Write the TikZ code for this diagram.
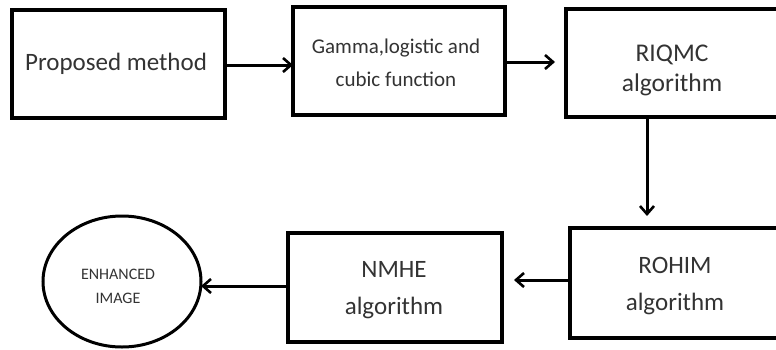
\documentclass[tikz,border=0pt]{standalone}
\usepackage{fontspec}
\setmainfont{Carlito}
\usetikzlibrary{arrows.meta,shapes.geometric}
\begin{document}
\begin{tikzpicture}[x=1pt,y=-1pt,
  box/.style={draw=black,line width=3.4pt,fill=white,inner sep=0pt},
  lab/.style={align=center,text=black!80,inner sep=0pt},
  conn/.style={line width=3pt,-{Straight Barb[length=8pt,width=14pt,line width=2.6pt]}}]
\useasboundingbox (0,0) rectangle (776,349);
\begin{scope}
\clip (0,0) rectangle (776,349);
\draw[box] (12,10) rectangle (225,118);
\node[inner sep=0pt,minimum size=0pt] (box1) at (118.5,64) {};
\draw[box] (293,7) rectangle (505,115);
\node[inner sep=0pt] (box2) at (399,61) {};
\draw[box] (566,9) rectangle (800,117);
\node[inner sep=0pt] (box3) at (663,63) {};
\draw[box] (570,228) rectangle (800,338);
\node[inner sep=0pt] (box4) at (670,283) {};
\draw[box] (288,233) rectangle (502,342);
\node[inner sep=0pt] (box5) at (395,287) {};
\node[draw=black,line width=3pt,ellipse,minimum width=158pt,minimum height=131pt,inner sep=0pt] (ell) at (122,281.5) {};
\end{scope}
\node[lab,font=\fontsize{25}{25}\selectfont] at (116,64) {Proposed method};
\node[lab,font=\fontsize{21}{33}\selectfont] at (396,63) {Gamma,logistic and\\cubic function};
\node[lab,font=\fontsize{25.5}{30}\selectfont] at (672,70) {RIQMC\\algorithm};
\node[lab,font=\fontsize{25}{37}\selectfont] at (675,286) {ROHIM\\algorithm};
\node[lab,font=\fontsize{25}{37}\selectfont] at (394,290) {NMHE\\algorithm};
\node[lab,font=\fontsize{16}{24}\selectfont] at (118,286) {ENHANCED\\IMAGE};
\coordinate (a1s) at (225,65); \coordinate (a1e) at (293,65);
\coordinate (a2s) at (505,62); \coordinate (a2e) at (555,62);
\coordinate (a3s) at (647,117); \coordinate (a3e) at (647,216);
\coordinate (a4s) at (570,280); \coordinate (a4e) at (514,280);
\coordinate (a5s) at (288,286); \coordinate (a5e) at (201,286);
\draw[conn] (a1s) -- (a1e);
\draw[conn] (a2s) -- (a2e);
\draw[conn] (a3s) -- (a3e);
\draw[conn] (a4s) -- (a4e);
\draw[conn] (a5s) -- (a5e);
\end{tikzpicture}
\end{document}
